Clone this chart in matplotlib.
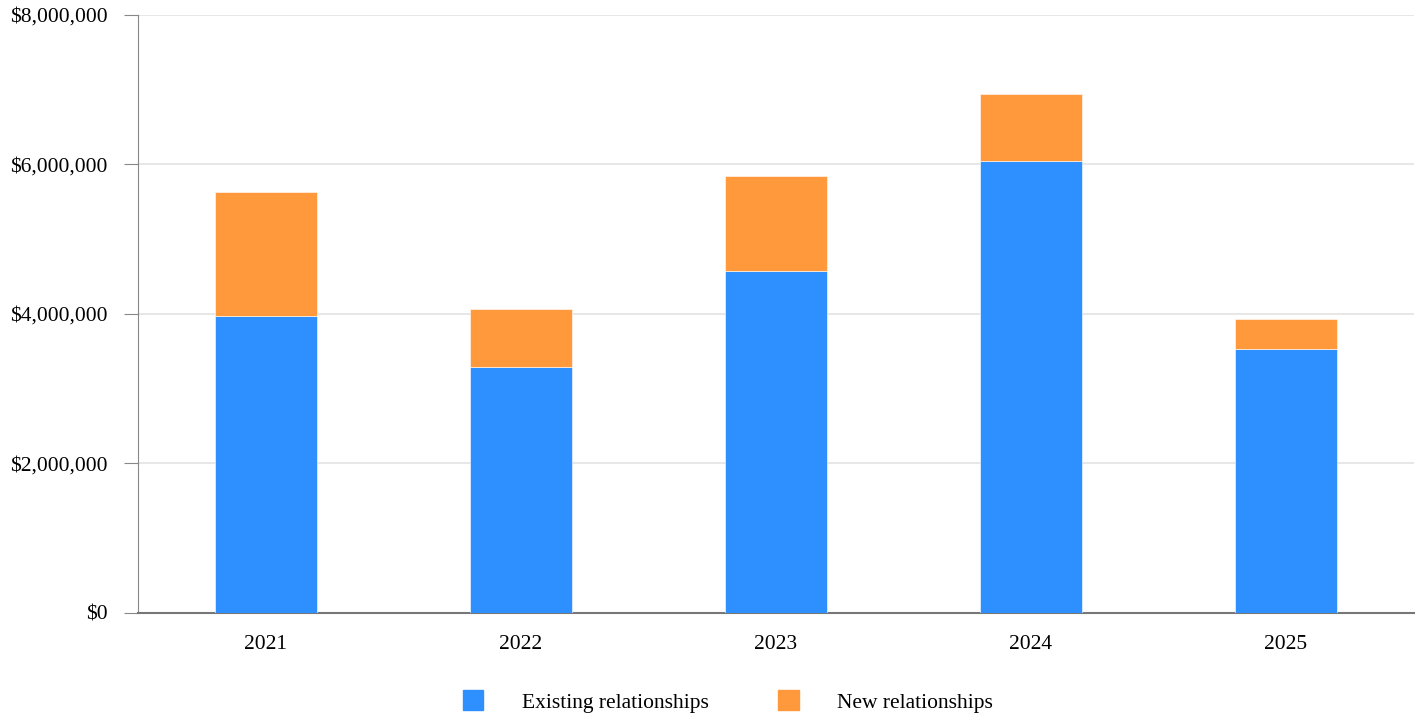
import matplotlib.pyplot as plt
import numpy as np
from matplotlib.ticker import FuncFormatter
from matplotlib.patches import Patch

plt.rcParams['font.family'] = ['Liberation Serif', 'DejaVu Serif']

years = ['2021', '2022', '2023', '2024', '2025']
existing = [3970000, 3290000, 4570000, 6040000, 3530000]
new = [1660000, 770000, 1270000, 900000, 400000]

blue = '#2e90ff'
orange = '#ff993b'

fig = plt.figure(figsize=(14.18, 7.14), dpi=100)
ax = fig.add_axes([138 / 1418, 1 - 612.7 / 714, (1413.5 - 138) / 1418, (612.7 - 15) / 714])

x = np.arange(len(years))
ax.bar(x, existing, width=0.4, color=blue, edgecolor='white', linewidth=0.4, zorder=3)
ax.bar(x, new, width=0.4, bottom=existing, color=orange, edgecolor='white', linewidth=0.4, zorder=3)

ax.set_xlim(-0.5, 4.5)
ax.set_ylim(0, 8000000)
ax.set_yticks(np.arange(0, 8000001, 2000000))
ax.yaxis.set_major_formatter(FuncFormatter(lambda v, p: '${:,.0f}'.format(v)))
ax.set_xticks(x)
ax.set_xticklabels(years)

ax.grid(axis='y', color='#e3e3e3', linewidth=1.2, zorder=0)
for s in ['top', 'right']:
    ax.spines[s].set_visible(False)
ax.spines['left'].set_color('#888888')
ax.spines['bottom'].set_color('#777777')
ax.spines['bottom'].set_linewidth(1.5)
ax.tick_params(axis='y', length=10, color='#888888', labelsize=15.5, pad=12)
ax.tick_params(axis='x', length=0, labelsize=15.5, pad=16)

handles = [Patch(color=blue, label='Existing relationships'),
           Patch(color=orange, label='New relationships')]
fig.legend(handles=handles, loc='center', bbox_to_anchor=(728 / 1418, 1 - 701.5 / 714),
           ncol=2, frameon=False, fontsize=15.5, handlelength=0.93, handleheight=1.05,
           handletextpad=1.8, columnspacing=3.25)

fig.savefig('out.png', dpi=100)
